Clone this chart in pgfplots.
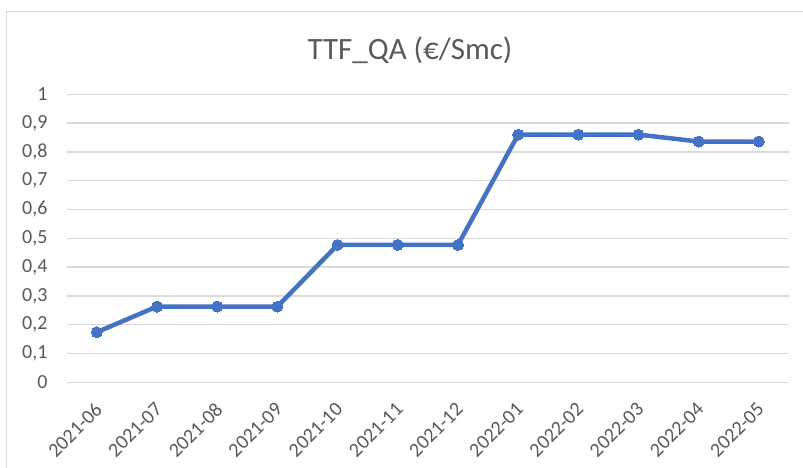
\documentclass[border=0pt]{standalone}
\usepackage{pgfplots}
\pgfplotsset{compat=1.18}
\usepackage{fontspec}
\setmainfont{Carlito}
\definecolor{linecol}{HTML}{4472C4}
\definecolor{gridcol}{HTML}{D9D9D9}
\definecolor{txtcol}{HTML}{595959}
\definecolor{framecol}{HTML}{D9D9D9}
\newcommand{\tickfont}{\fontsize{20}{22}\selectfont}
\begin{document}
\begin{tikzpicture}
\path[use as bounding box] (-66.7pt,-85.7pt) rectangle (736.3pt,382.3pt);
\draw[framecol, line width=1.5pt] (-60.4pt,-90pt) -- (-60.4pt,370.8pt) -- (740pt,370.8pt);
\begin{axis}[
  at={(0pt,0pt)}, anchor=south west,
  scale only axis, width=722.3pt, height=288pt,
  xmin=-0.5, xmax=11.5, ymin=0, ymax=1,
  ytick={0,0.1,...,1.01},
  xtick={0,...,11},
  xticklabels={2021-06,2021-07,2021-08,2021-09,2021-10,2021-11,2021-12,2022-01,2022-02,2022-03,2022-04,2022-05},
  axis line style={draw=none},
  tick style={draw=none},
  ymajorgrids,
  grid style={gridcol, line width=1.5pt},
  /pgf/number format/assume math mode=true,
  /pgf/number format/use comma,
  yticklabel style={font=\tickfont, text=txtcol, inner sep=0pt, xshift=-19pt},
  xticklabel style={font=\tickfont, text=txtcol, xshift=-3pt, yshift=-19pt, rotate=45, anchor=north east, inner sep=0pt},
  clip=false,
]
\addplot[linecol, line width=4.5pt, mark=*, mark size=5.5pt, mark options={fill=linecol, draw=linecol, line width=0pt}]
coordinates {
(0,0.174) (1,0.263) (2,0.263) (3,0.263) (4,0.477) (5,0.477) (6,0.477) (7,0.860) (8,0.860) (9,0.860) (10,0.836) (11,0.836)
};
\end{axis}
\node[anchor=base, text=txtcol, font=\fontsize{31}{34}\selectfont, inner sep=0pt] at (343.3pt,323pt) {TTF\_QA (€/Smc)};
\end{tikzpicture}
\end{document}
